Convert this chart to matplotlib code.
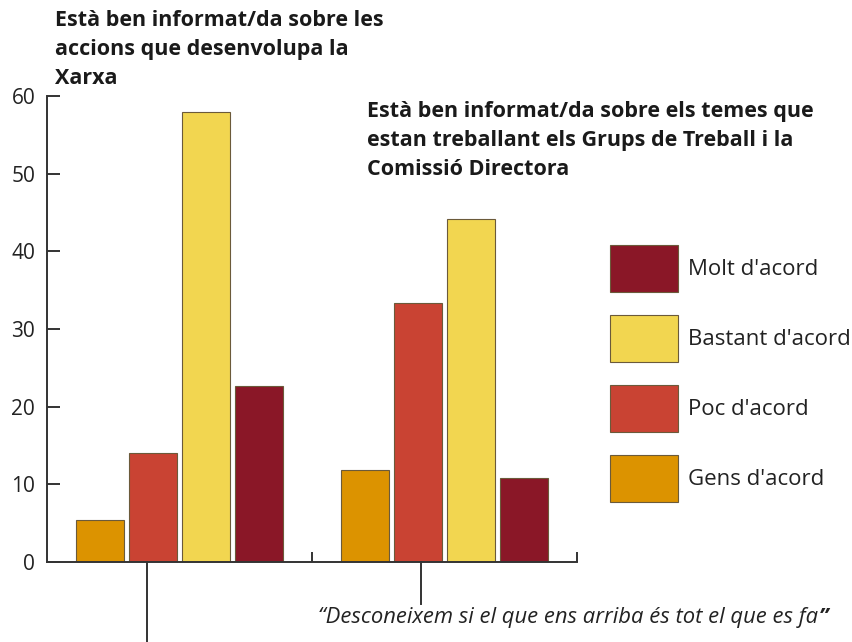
import matplotlib
matplotlib.use("Agg")
import matplotlib.pyplot as plt
from matplotlib.patches import Patch
import numpy as np

plt.rcParams['font.family'] = ['Open Sans', 'DejaVu Sans']

groups = ["Està ben informat/da sobre les\naccions que desenvolupa la\nXarxa",
          "Està ben informat/da sobre els temes que\nestan treballant els Grups de Treball i la\nComissió Directora"]
series = ["Gens d'acord", "Poc d'acord", "Bastant d'acord", "Molt d'acord"]
values = {
    "Gens d'acord":    [5.4, 11.8],
    "Poc d'acord":     [14.0, 33.3],
    "Bastant d'acord": [57.9, 44.1],
    "Molt d'acord":    [22.6, 10.8],
}
colors = {
    "Gens d'acord": "#DC9300",
    "Poc d'acord": "#C94333",
    "Bastant d'acord": "#F2D650",
    "Molt d'acord": "#8A1727",
}
yticks = [0, 10, 20, 30, 40, 50, 60]
quote = "“Desconeixem si el que ens arriba és tot el que es fa"
quote_end = "”"

fig = plt.figure(figsize=(8.53, 6.42), dpi=100)
ax = fig.add_axes([47/853, 1-562/642, 530/853, 466/642])

centers = np.array([0.5, 1.5])
pitch = 0.2
width = 0.181
for i, s in enumerate(series):
    ax.bar(centers + (i - 1.5) * pitch, values[s], width=width, color=colors[s],
           edgecolor="#6b5a3a", linewidth=0.8, zorder=2)

ax.set_xlim(0, 2)
ax.set_ylim(0, 60)
for sp in ["top", "right"]:
    ax.spines[sp].set_visible(False)
ax.spines["left"].set_color("#333333")
ax.spines["bottom"].set_color("#333333")
ax.spines["left"].set_linewidth(1.4)
ax.spines["bottom"].set_linewidth(1.4)
ax.set_yticks(yticks)
ax.tick_params(axis="y", direction="in", length=9.5, width=1.4, color="#333333",
               labelsize=15, pad=8.5, labelcolor="#222222")
ax.set_xticks([1, 2])
ax.set_xticklabels([])
ax.tick_params(axis="x", direction="in", length=7.5, width=1.4, color="#333333")

# downward connector lines
ax.plot([0.377, 0.377], [0, -10.4], color="#333333", lw=1.4, clip_on=False)
ax.plot([1.411, 1.411], [0, -5.4], color="#333333", lw=1.4, clip_on=False)

# titles (baseline of last line)
fig.text(55/853, 1-84/642, groups[0], ha="left", va="baseline", fontsize=15.5, fontweight="bold",
         color="#1a1a1a", linespacing=1.5)
fig.text(367/853, 1-175/642, groups[1], ha="left", va="baseline", fontsize=15.5, fontweight="bold",
         color="#1a1a1a", linespacing=1.5)

qt = fig.text(318/853, 1-623/642, quote, ha="left", va="baseline", fontsize=15.8, style="italic",
              color="#222222")
fig.canvas.draw()
bb = qt.get_window_extent()
fig.text(bb.x1 / fig.bbox.width + 1/853, 1-623/642, quote_end, ha="left", va="baseline",
         fontsize=15.8, style="italic", fontweight="bold", color="#222222")

F = 16
h = (47 * 0.72 / F - 0.245) / 0.65
handles = [Patch(facecolor=colors[s], edgecolor="#6b5a3a", linewidth=0.8) for s in series[::-1]]
leg = fig.legend(handles, series[::-1], loc="upper left", bbox_to_anchor=(610/853, 1-245/642),
                 frameon=False, fontsize=F, handlelength=68 * 0.72 / F, handleheight=h,
                 labelspacing=(23 * 0.72) / F, handletextpad=0.45, borderpad=0,
                 borderaxespad=0)
for t in leg.get_texts():
    t.set_color("#222222")

fig.savefig("out.png", dpi=100)
